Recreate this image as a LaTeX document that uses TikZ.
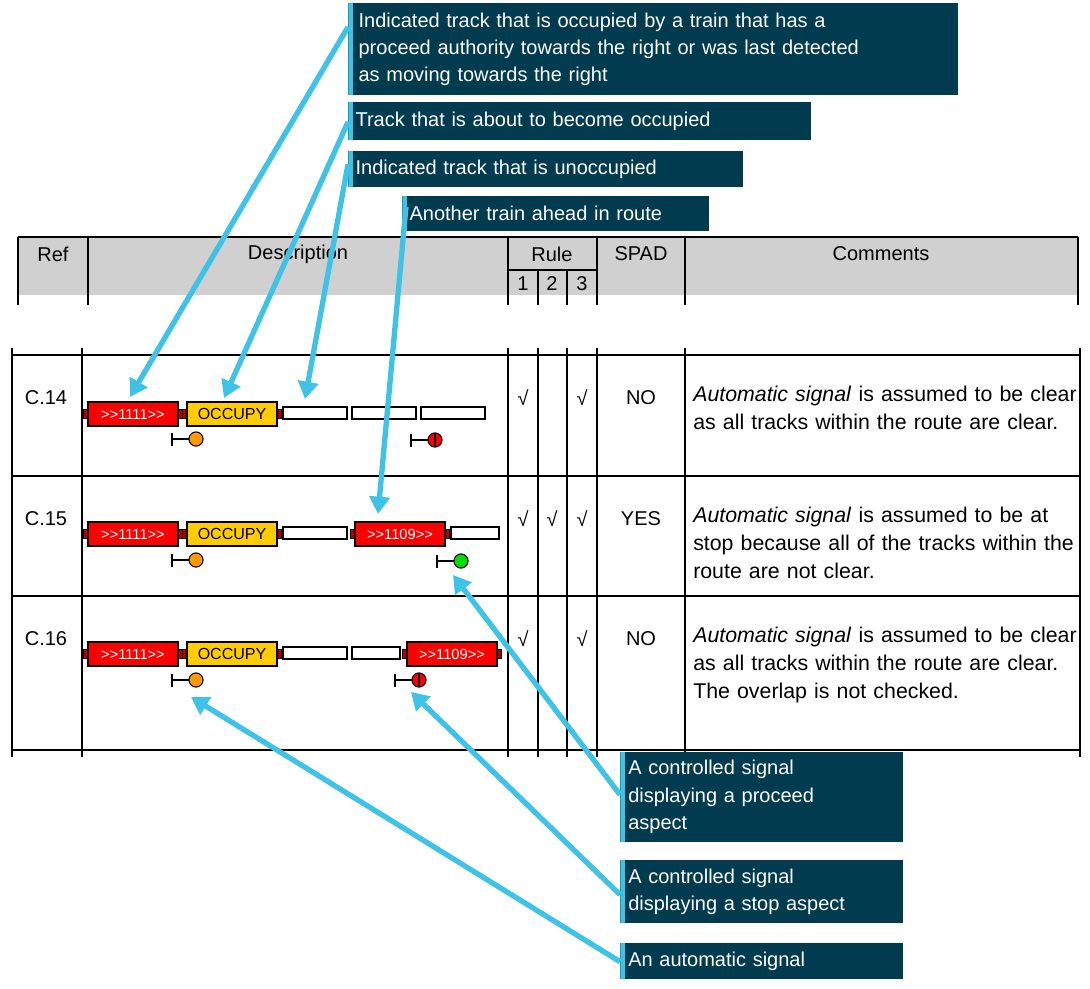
\documentclass[tikz,border=0pt]{standalone}
\usepackage{fontspec}
\setmainfont{Liberation Sans}
\usetikzlibrary{arrows.meta}
\definecolor{boxteal}{HTML}{003B4F}
\definecolor{callblue}{HTML}{3EC3E6}
\definecolor{hdrgrey}{HTML}{D0D0D0}
\definecolor{trainred}{HTML}{FF0000}
\definecolor{occyellow}{HTML}{FFCC00}
\definecolor{sigorange}{HTML}{FF9900}
\definecolor{siggreen}{HTML}{00DD00}
\tikzset{
  callout/.style={fill=boxteal,text=white,anchor=north west,align=left,inner sep=0pt,
    font=\fontsize{15}{20.5}\selectfont,
    path picture={\fill[callblue] (path picture bounding box.north west) rectangle ([xshift=3.5pt]path picture bounding box.south west);}},
  pointer/.style={callblue,line width=4pt,-{Triangle[length=13pt,width=15pt]}},
  train/.style={draw=black,thick,fill=trainred,text=white,minimum width=67.5pt,minimum height=18pt,inner sep=0pt,font=\fontsize{11}{11}\selectfont},
  occupy/.style={train,fill=occyellow,text=black,font=\fontsize{12}{12}\selectfont},
  freetrack/.style={draw=black,thick,fill=white,minimum height=9pt,inner sep=0pt},
  cell/.style={font=\fontsize{15}{15}\selectfont},
  tick/.style={font=\fontsize{15}{15}\selectfont},
  comment/.style={anchor=north west,align=left,text width=290pt,inner sep=0pt,font=\fontsize{16}{20.8}\selectfont},
}
\newcommand{\stubs}[1]{%
  \fill[trainred!70!black,draw=black] ([xshift=-3pt,yshift=-3.5pt]#1.west) rectangle ([yshift=3.5pt]#1.west);
  \fill[trainred!70!black,draw=black] ([yshift=-3.5pt]#1.east) rectangle ([xshift=3pt,yshift=3.5pt]#1.east);}
\newcommand{\signal}[3]{% x, y, fill
  \draw[thick] (#1-24,#2-6) -- (#1-24,#2+7) (#1-24,#2) -- (#1-7,#2);
  \draw[thick,fill=#3] (#1,#2) circle (5.3pt);}
\begin{document}
\begin{tikzpicture}[x=0.75pt,y=-0.75pt]
\useasboundingbox (0,0) rectangle (1090,989);

% header
\fill[hdrgrey] (18,237) rectangle (1078,295);
\draw[line width=1.8pt] (18,237) -- (1078,237);
\draw[line width=1.8pt] (18,237) -- (18,305) (88,237) -- (88,305) (508,237) -- (508,305)
  (538,270) -- (538,305) (567,270) -- (567,305) (597,237) -- (597,305) (685,237) -- (685,305)
  (1078,237) -- (1078,305);
\draw[line width=1.2pt] (508,270) -- (597,270);
\node[cell] (href) at (53,254) {Ref};
\node[cell] (hdesc) at (298,254) {Description};
\node[cell] (hrule) at (552,254) {Rule};
\node[cell] (hr1) at (523,284) {1};
\node[cell] (hr2) at (552,284) {2};
\node[cell] (hr3) at (582,284) {3};
\node[cell] (hspad) at (641,254) {SPAD};
\node[cell] (hcom) at (881,254) {Comments};

% body grid
\draw[line width=1.8pt] (12,355) -- (1080,355) (12,750) -- (1080,750);
\draw[line width=1pt] (12,476) -- (1080,476) (12,596) -- (1080,596);
\foreach \cx in {12,82,508,538,567,597,685,1080}
  \draw[line width=1.8pt] (\cx,348) -- (\cx,757);

% rows text
\node[cell] (r14) at (46,398) {C.14};
\node[cell] (r15) at (46,519) {C.15};
\node[cell] (r16) at (46,639) {C.16};
\node[tick] (k14a) at (523,398) {√};
\node[tick] (k14c) at (582,398) {√};
\node[tick] (k15a) at (523,519) {√};
\node[tick] (k15b) at (552,519) {√};
\node[tick] (k15c) at (582,519) {√};
\node[tick] (k16a) at (523,639) {√};
\node[tick] (k16c) at (582,639) {√};
\node[cell] (s14) at (641,398) {NO};
\node[cell] (s15) at (641,519) {YES};
\node[cell] (s16) at (641,639) {NO};
\node[comment] (m14) at (693,386) {\textit{Automatic signal} is assumed to be clear as all tracks within the route are clear.};
\node[comment] (m15) at (693,507) {\textit{Automatic signal} is assumed to be at stop because all of the tracks within the route are not clear.};
\node[comment] (m16) at (693,627) {\textit{Automatic signal} is assumed to be clear as all tracks within the route are clear. The overlap is not checked.};

% row C.14
\node[train] (a14) at (133,414) {>{}>1111>{}>}; \stubs{a14}
\node[occupy] (b14) at (232,414) {OCCUPY}; \stubs{b14}
\node[freetrack,minimum width=48pt] (c14) at (315,413) {};
\node[freetrack,minimum width=48pt] (d14) at (384,413) {};
\node[freetrack,minimum width=48pt] (e14) at (453,413) {};
\signal{196}{439}{sigorange}
\signal{435}{440}{trainred}
\draw[thick] (435,434) -- (435,446);

% row C.15
\node[train] (a15) at (133,534) {>{}>1111>{}>}; \stubs{a15}
\node[occupy] (b15) at (232,534) {OCCUPY}; \stubs{b15}
\node[freetrack,minimum width=48pt] (c15) at (315,533) {};
\node[train] (d15) at (400,534) {>{}>1109>{}>}; \stubs{d15}
\node[freetrack,minimum width=36pt] (e15) at (475,533) {};
\signal{196}{560}{sigorange}
\signal{461}{561}{siggreen}

% row C.16
\node[train] (a16) at (133,654) {>{}>1111>{}>}; \stubs{a16}
\node[occupy] (b16) at (232,654) {OCCUPY}; \stubs{b16}
\node[freetrack,minimum width=48pt] (c16) at (315,653) {};
\node[freetrack,minimum width=36pt] (d16) at (376,653) {};
\node[train] (e16) at (452,654) {>{}>1109>{}>}; \stubs{e16}
\signal{196}{680}{sigorange}
\signal{419}{680}{trainred}
\draw[thick] (419,674) -- (419,686);

% callouts
\node[callout,minimum width=457.5pt,minimum height=69pt,text width=442pt] (n1) at (348,3)
  {Indicated track that is occupied by a train that has a\\proceed authority towards the right or was last detected\\as moving towards the right};
\node[callout,minimum width=347pt,minimum height=28pt,text width=336pt] (n2) at (348,102) {Track that is about to become occupied};
\node[callout,minimum width=296pt,minimum height=27pt,text width=285pt] (n3) at (348,151) {Indicated track that is unoccupied};
\node[callout,minimum width=230pt,minimum height=26pt,text width=219pt] (n4) at (402,196) {Another train ahead in route};
\node[callout,minimum width=212pt,minimum height=67pt,text width=200pt] (n5) at (620,752) {A controlled signal\\displaying a proceed\\aspect};
\node[callout,minimum width=212pt,minimum height=47pt,text width=200pt] (n6) at (620,860) {A controlled signal\\displaying a stop aspect};
\node[callout,minimum width=212pt,minimum height=27pt,text width=200pt] (n7) at (620,943) {An automatic signal};

% pointers
\coordinate (p1) at (130,397);
\coordinate (p2) at (224,398);
\coordinate (p3) at (305,399);
\coordinate (p4) at (378,514);
\coordinate (p5) at (453,575);
\coordinate (p6) at (411,692);
\coordinate (p7) at (191,697);
\draw[pointer] ([yshift=-18pt]n1.north west) -- (p1);
\draw[pointer] ([yshift=-15pt]n2.north west) -- (p2);
\draw[pointer] ([yshift=-10pt]n3.north west) -- (p3);
\draw[pointer] ([xshift=3pt,yshift=-8pt]n4.north west) -- (p4);
\draw[pointer] ([yshift=-32pt]n5.north west) -- (p5);
\draw[pointer] ([yshift=-26pt]n6.north west) -- (p6);
\draw[pointer] ([yshift=-14pt]n7.north west) -- (p7);
\end{tikzpicture}
\end{document}
